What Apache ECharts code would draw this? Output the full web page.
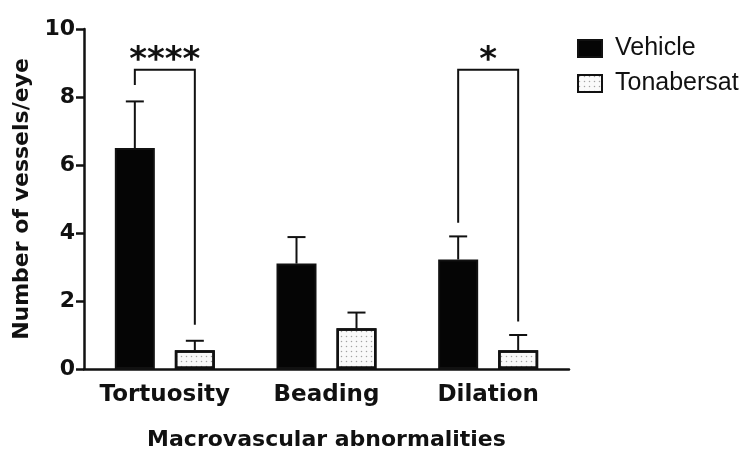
<!DOCTYPE html>
<html>
<head>
<meta charset="utf-8">
<script src="https://cdn.jsdelivr.net/npm/echarts@6/dist/echarts.min.js"></script>
<style>
  html, body { margin: 0; padding: 0; background: #fff; }
  #chart { width: 750px; height: 450px; }
</style>
</head>
<body>
<div id="chart"></div>
<script>
// data
var categories = ['Tortuosity', 'Beading', 'Dilation'];
var vehicleMean = [6.5, 3.1, 3.22];
var vehicleUpper = [7.87, 3.88, 3.9];
var tonaMean = [0.55, 1.2, 0.55];
var tonaUpper = [0.83, 1.66, 1.0];
var yTicks = [0, 2, 4, 6, 8, 10];
// brackets: [category, top, left leg end, right leg end, stars]
var brackets = [
  [0, 8.8, 8.35, 1.3, '****'],
  [2, 8.8, 4.3, 1.4, '*']
];

var FONT = 'DejaVu Sans';
var LEGEND_FONT = 'Liberation Sans';
var BAR_W = 40;
var HALF_STEP = 30; // bar centre offset from category centre

var chart = echarts.init(document.getElementById('chart'));

function errorData(means, uppers, side) {
  return means.map(function (m, i) { return [i, m, uppers[i], side]; });
}

function renderError(params, api) {
  var cat = api.value(0);
  var side = api.value(3);
  var base = api.coord([cat, api.value(1)]);
  var top = api.coord([cat, api.value(2)]);
  var x = base[0] + side * HALF_STEP;
  var style = { stroke: '#111', lineWidth: 2 };
  return {
    type: 'group',
    children: [
      { type: 'line', shape: { x1: x, y1: base[1], x2: x, y2: top[1] }, style: style },
      { type: 'line', shape: { x1: x - 9, y1: top[1], x2: x + 9, y2: top[1] }, style: style }
    ]
  };
}

function renderBracket(params, api) {
  var cat = api.value(0);
  var c = api.coord([cat, api.value(1)]);
  var l = api.coord([cat, api.value(2)]);
  var r = api.coord([cat, api.value(3)]);
  var xl = c[0] - HALF_STEP, xr = c[0] + HALF_STEP;
  var style = { stroke: '#111', lineWidth: 2, fill: null };
  return {
    type: 'group',
    children: [
      { type: 'polyline', shape: { points: [[xl, l[1]], [xl, c[1]], [xr, c[1]], [xr, r[1]]] }, style: style },
      { type: 'text', style: {
          text: brackets[params.dataIndex][4], x: c[0], y: c[1] + 8,
          align: 'center', verticalAlign: 'bottom',
          font: 'bold 34px "' + FONT + '"', fill: '#111'
        } }
    ]
  };
}

chart.setOption({
  backgroundColor: '#fff',
  animation: false,
  textStyle: { fontFamily: FONT },
  grid: { left: 84, right: 181, top: 29, bottom: 81, containLabel: false, outerBoundsMode: 'none' },
  legend: {
    orient: 'vertical',
    left: 572,
    top: 31,
    itemWidth: 24,
    itemHeight: 17,
    itemGap: 10,
    icon: 'rect',
    data: ['Vehicle', 'Tonabersat'],
    textStyle: { fontSize: 25, color: '#111', fontFamily: LEGEND_FONT, padding: [0, 0, 0, 8] }
  },
  xAxis: {
    type: 'category',
    data: categories,
    name: 'Macrovascular abnormalities',
    nameLocation: 'middle',
    nameGap: 60,
    nameTextStyle: { fontSize: 22, fontWeight: 'bold', color: '#111' },
    axisLine: { lineStyle: { color: '#111', width: 2.5 } },
    axisTick: { alignWithLabel: true, length: 9, lineStyle: { color: '#111', width: 2.5 } },
    axisLabel: { interval: 0, fontSize: 23, fontWeight: 'bold', color: '#111', margin: 15 }
  },
  yAxis: {
    type: 'value',
    min: yTicks[0],
    max: yTicks[yTicks.length - 1],
    interval: 2,
    name: 'Number of vessels/eye',
    nameLocation: 'middle',
    nameGap: 50,
    nameTextStyle: { fontSize: 22, fontWeight: 'bold', color: '#111' },
    splitLine: { show: false },
    axisLine: { show: true, lineStyle: { color: '#111', width: 2.5 } },
    axisTick: { show: true, length: 8, lineStyle: { color: '#111', width: 2.5 } },
    axisLabel: { fontSize: 22, fontWeight: 'bold', color: '#111', margin: 9 }
  },
  series: [
    {
      name: 'Vehicle',
      type: 'bar',
      data: vehicleMean,
      barWidth: BAR_W,
      barGap: '50%',
      itemStyle: { color: '#050505', borderColor: '#111', borderWidth: 2 }
    },
    {
      name: 'Tonabersat',
      type: 'bar',
      data: tonaMean,
      barWidth: BAR_W,
      itemStyle: {
        color: '#fafafa',
        borderColor: '#111',
        borderWidth: 2.5,
        decal: { symbol: 'circle', symbolSize: 0.5, dashArrayX: [3, 2], dashArrayY: [3, 2], color: 'rgba(0,0,0,0.35)' }
      }
    },
    {
      type: 'custom',
      renderItem: renderError,
      data: errorData(vehicleMean, vehicleUpper, -1).concat(errorData(tonaMean, tonaUpper, 1)),
      z: 5,
      silent: true
    },
    {
      type: 'custom',
      renderItem: renderBracket,
      data: brackets.map(function (b) { return [b[0], b[1], b[2], b[3]]; }),
      z: 6,
      silent: true
    }
  ]
});
</script>
</body>
</html>
